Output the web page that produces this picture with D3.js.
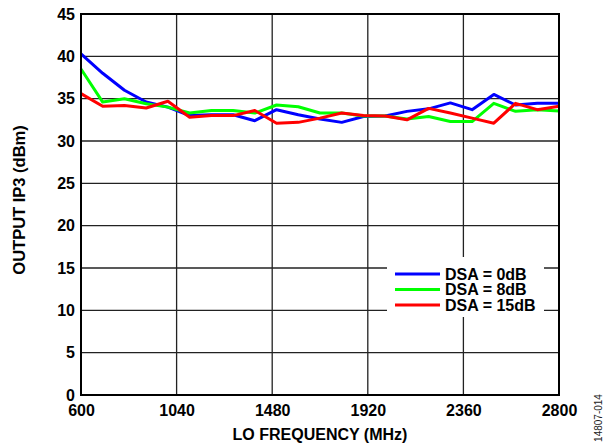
<!DOCTYPE html>
<html><head><meta charset="utf-8">
<script src="https://cdn.jsdelivr.net/npm/d3@7"></script>
<style>body{margin:0;background:#fff}svg{display:block}text{font-family:"Liberation Sans",Arial,Helvetica,sans-serif}</style>
</head><body><svg id="c" width="613" height="444"></svg>
<script>
const freqs = [600,700,800,900,1000,1100,1200,1300,1400,1500,1600,1700,1800,1900,2000,2100,2200,2300,2400,2500,2600,2700,2800];
const dsa0  = [40.3,38.0,36.0,34.6,34.0,33.0,33.1,33.1,32.4,33.7,33.1,32.6,32.2,32.9,32.95,33.5,33.8,34.5,33.7,35.5,34.25,34.45,34.45];
const dsa8  = [38.5,34.6,35.0,34.4,34.0,33.3,33.6,33.6,33.3,34.25,34.05,33.3,33.3,32.95,32.95,32.6,32.9,32.3,32.3,34.45,33.5,33.7,33.55];
const dsa15 = [35.6,34.1,34.2,33.9,34.7,32.8,33.0,33.0,33.6,32.1,32.2,32.7,33.3,33.0,32.95,32.5,33.85,33.3,32.7,32.1,34.45,33.7,34.1];
const seriesNames = ["DSA = 0dB","DSA = 8dB","DSA = 15dB"];
const seriesColors = ["#0000ff","#00ff00","#ff0000"];
const xTicks = [600,1040,1480,1920,2360,2800];
const yTicks = [0,5,10,15,20,25,30,35,40,45];

const svg = d3.select("#c");
const L=81,R=559,T=14,B=395;
const x = d3.scaleLinear().domain([600,2800]).range([L,R]);
const y = d3.scaleLinear().domain([0,45]).range([B,T]);

// grid
svg.append("g").selectAll("line").data(xTicks.slice(1,-1)).join("line")
  .attr("x1",d=>x(d)).attr("x2",d=>x(d)).attr("y1",T).attr("y2",B)
  .attr("stroke","#222").attr("stroke-width",1.3);
svg.append("g").selectAll("line").data(yTicks.slice(1,-1)).join("line")
  .attr("y1",d=>y(d)).attr("y2",d=>y(d)).attr("x1",L).attr("x2",R)
  .attr("stroke","#222").attr("stroke-width",1.3);

// axes labels
const xa = svg.append("g").attr("transform",`translate(0,${B})`)
  .call(d3.axisBottom(x).tickValues(xTicks).tickSize(0).tickPadding(10).tickFormat(d3.format("d")));
xa.select(".domain").remove();
xa.selectAll("text").attr("font-size",16).attr("font-weight","bold").attr("fill","#000").attr("font-family","Liberation Sans, Arial, sans-serif");
const ya = svg.append("g").attr("transform",`translate(${L},0)`)
  .call(d3.axisLeft(y).tickValues(yTicks).tickSize(0).tickPadding(6));
ya.select(".domain").remove();
ya.selectAll("text").attr("font-size",16).attr("font-weight","bold").attr("fill","#000").attr("font-family","Liberation Sans, Arial, sans-serif");

// series
const line = d3.line().x((d,i)=>x(freqs[i])).y(d=>y(d));
[dsa0,dsa8,dsa15].forEach((s,k)=>{
  svg.append("path").datum(s).attr("d",line).attr("fill","none")
    .attr("stroke",seriesColors[k]).attr("stroke-width",3).attr("stroke-linejoin","round");
});

// frame
svg.append("rect").attr("x",L).attr("y",T).attr("width",R-L).attr("height",B-T)
  .attr("fill","none").attr("stroke","#000").attr("stroke-width",2);

// legend
const lg = svg.append("g");
lg.append("rect").attr("x",387).attr("y",257).attr("width",157).attr("height",60).attr("fill","#fff");
seriesNames.forEach((n,k)=>{
  const yy = 274 + k*15.5;
  lg.append("line").attr("x1",395).attr("x2",440).attr("y1",yy).attr("y2",yy)
    .attr("stroke",seriesColors[k]).attr("stroke-width",3);
  lg.append("text").attr("x",445).attr("y",yy).attr("dy","0.36em")
    .attr("font-size",16).attr("font-weight","bold").text(n);
});

// titles
svg.append("text").attr("x",(L+R)/2).attr("y",440).attr("text-anchor","middle")
  .attr("font-size",16).attr("font-weight","bold").text("LO FREQUENCY (MHz)");
svg.append("text").attr("transform","translate(25,200) rotate(-90)").attr("text-anchor","middle")
  .attr("font-size",16.5).attr("font-weight","bold").text("OUTPUT IP3 (dBm)");
svg.append("text").attr("transform","translate(602,418) rotate(-90)").attr("text-anchor","middle")
  .attr("font-size",10).attr("fill","#222").text("14807-014");
</script></body></html>
